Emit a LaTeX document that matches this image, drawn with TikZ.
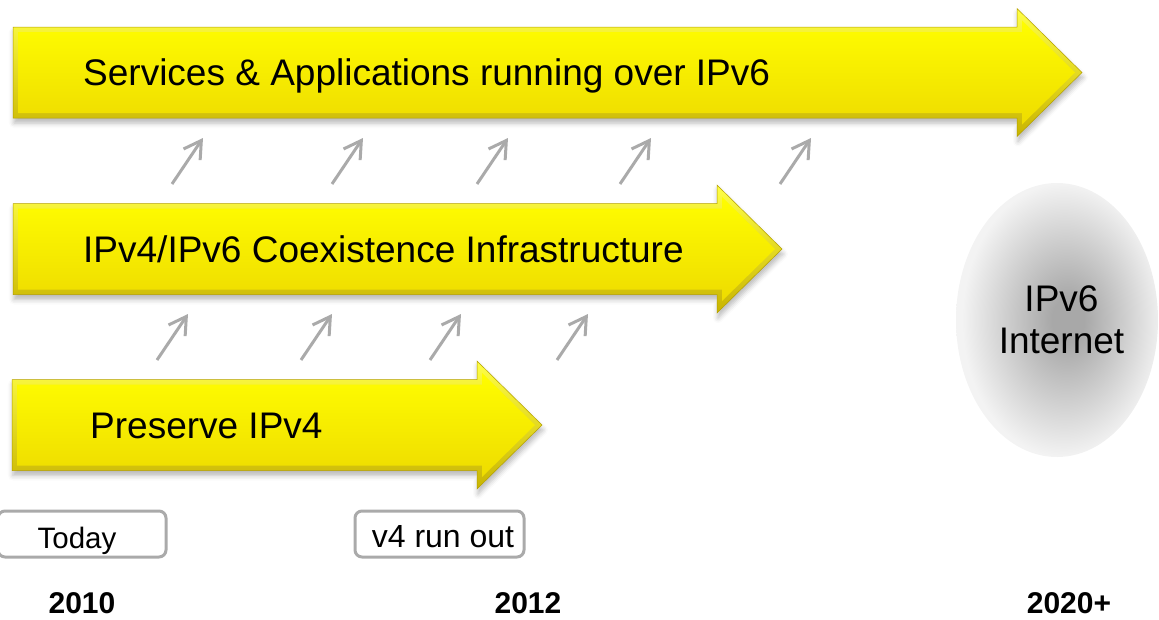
\documentclass[tikz,border=0pt]{standalone}
\usepackage{fontspec}
\setmainfont{Liberation Sans}
\usetikzlibrary{arrows.meta,shadows.blur,shapes.geometric}

\definecolor{rimtop}{RGB}{255,255,70}
\definecolor{rimbot}{RGB}{200,180,0}
\definecolor{facetop}{RGB}{255,253,0}
\definecolor{facebot}{RGB}{238,220,0}
\definecolor{rimline}{RGB}{180,160,0}
\definecolor{risergray}{RGB}{170,170,170}
\definecolor{bubblein}{RGB}{168,168,168}
\definecolor{bubbleout}{RGB}{243,243,243}

\pgfdeclareradialshading{bubble}{\pgfpoint{3bp}{0bp}}{%
  color(0bp)=(bubblein); color(4bp)=(bubblein);
  color(25bp)=(bubbleout); color(50bp)=(bubbleout)}

% A bevelled yellow block arrow: left x, centre y, x of the head base
\newcommand\goldarrow[3]{%
  \shade[goldrim]
    ({#1},{#2-45.5}) -- ({#3},{#2-45.5}) -- ({#3},{#2-64}) -- ({#3+65},{#2})
    -- ({#3},{#2+64}) -- ({#3},{#2+45.5}) -- ({#1},{#2+45.5}) -- cycle;
  \shade[goldface]
    ({#1+5},{#2-40.5}) -- ({#3+5},{#2-40.5}) -- ({#3+5},{#2-52}) -- ({#3+58},{#2})
    -- ({#3+5},{#2+52}) -- ({#3+5},{#2+40.5}) -- ({#1+5},{#2+40.5}) -- cycle;
}

\begin{document}
\begin{tikzpicture}[x=1pt,y=-1pt,
  goldrim/.style={top color=rimtop,bottom color=rimbot,draw=rimline,line width=0.5pt,
    blur shadow={shadow xshift=1pt,shadow yshift=-5pt,shadow blur radius=5pt,shadow opacity=28}},
  goldface/.style={top color=facetop,bottom color=facebot},
  phase/.style={anchor=base west,inner sep=0pt,font=\fontsize{37}{42}\selectfont},
  riser/.style={draw=risergray,line width=3pt,
    -{Straight Barb[length=17pt,width=20pt,line width=3pt]}},
  datebox/.style={draw=risergray,line width=3pt,rounded corners=7pt},
  datetext/.style={anchor=base,inner sep=0pt},
  year/.style={anchor=base,inner sep=0pt,font=\fontsize{30}{36}\selectfont\bfseries}]

\useasboundingbox (0,0) rectangle (1159,619);

% the three phases
\goldarrow{13}{72.5}{1017}
\goldarrow{13}{249}{717}
\goldarrow{12}{425}{477}

\node[phase] (svc)  at (83,85)  {Services \& Applications running over IPv6};
\node[phase] (coex) at (83,262) {IPv4/IPv6 Coexistence Infrastructure};
\node[phase] (keep) at (90,438) {Preserve IPv4};

% small grey arrows rising between the phases
\foreach \a in {172,332,477,620,780}
  \draw[riser] (\a,184) -- (\a+31,138);
\foreach \a in {157,301,430,557}
  \draw[riser] (\a,360) -- (\a+31,314);

% the goal
\node[ellipse,shade,shading=bubble,minimum width=202pt,minimum height=274pt,
      inner sep=0pt,align=center,font=\fontsize{37}{42}\selectfont]
  (inet) at (1057,320) {\hspace*{9pt}IPv6\\\hspace*{9pt}Internet};

% milestones
\draw[datebox] (-2,511) rectangle (166,557);
\node[datetext,font=\fontsize{29.5}{34}\selectfont] (today) at (77,548) {Today};
\draw[datebox] (355,511) rectangle (524,557);
\node[datetext,font=\fontsize{32}{36}\selectfont] (runout) at (443,547) {v4 run out};

\node[year] (y2010) at (82,613)   {2010};
\node[year] (y2012) at (528,613)  {2012};
\node[year] (y2020) at (1069,613) {2020+};
\end{tikzpicture}
\end{document}
